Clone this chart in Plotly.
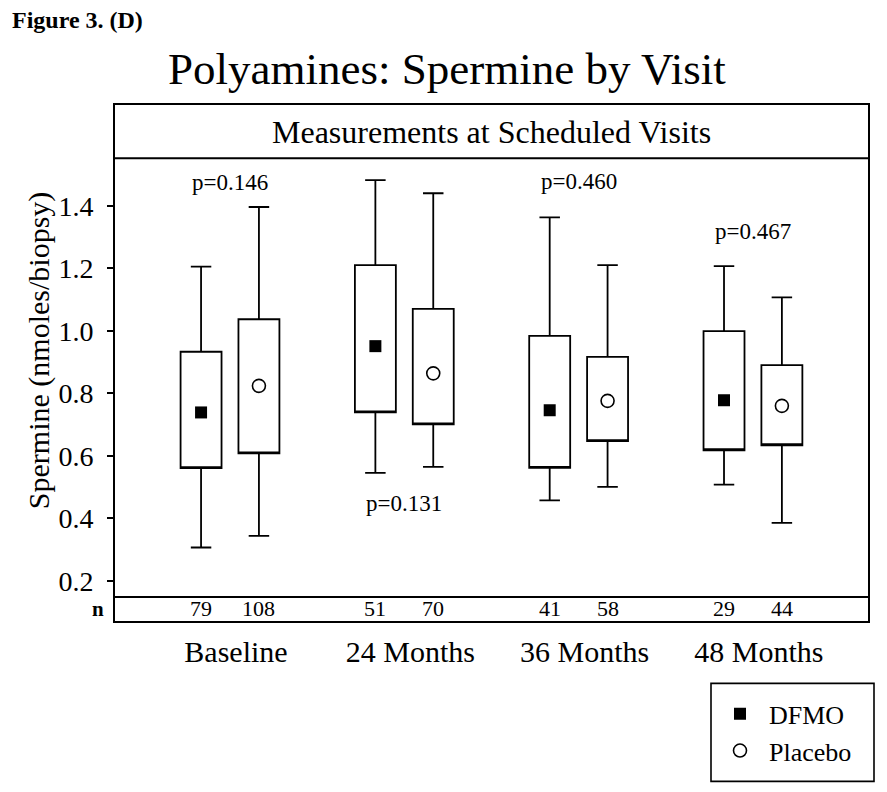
import plotly.graph_objects as go

# ---------------- data ----------------
visits = ["Baseline", "24 Months", "36 Months", "48 Months"]

dfmo_lo   = [0.307, 0.546, 0.458, 0.508]
dfmo_q1   = [0.561, 0.739, 0.562, 0.618]
dfmo_q3   = [0.933, 1.210, 0.984, 0.999]
dfmo_hi   = [1.205, 1.482, 1.363, 1.207]
dfmo_mean = [0.739, 0.951, 0.746, 0.778]
dfmo_n    = [79, 51, 41, 29]

plac_lo   = [0.344, 0.565, 0.501, 0.386]
plac_q1   = [0.608, 0.701, 0.647, 0.634]
plac_q3   = [1.037, 1.070, 0.917, 0.890]
plac_hi   = [1.396, 1.440, 1.210, 1.107]
plac_mean = [0.824, 0.864, 0.776, 0.760]
plac_n    = [108, 70, 58, 44]

p_labels = ["p=0.146", "p=0.131", "p=0.460", "p=0.467"]
p_y      = [1.473, 0.448, 1.477, 1.317]

yticks = [0.2, 0.4, 0.6, 0.8, 1.0, 1.2, 1.4]

# ---------------- layout constants ----------------
PAGE = 8                      # default body margin of the html page
W, H = 887 - PAGE, 792 - PAGE
# plot frame in page pixels
L, R, T, B = 115, 868, 105, 620.7
OFF = 0.166
BOXW = 0.235
YR = [0.072, 1.7222]
Y_HEADER = 1.5517
Y_NROW = 0.1488
FONT = "Liberation Serif, Times New Roman, serif"

def px2x(px):
    return (px - L) / (R - L)

def px2y(py):
    return (B - py) / (B - T)

gx = list(range(len(visits)))
dx = [g - OFF for g in gx]
px_ = [g + OFF for g in gx]

fig = go.Figure()

boxline = dict(color="black", width=1.8)
fig.add_trace(go.Box(x=dx, q1=dfmo_q1, median=dfmo_q1, q3=dfmo_q3,
                     lowerfence=dfmo_lo, upperfence=dfmo_hi,
                     width=BOXW, whiskerwidth=0.5, fillcolor="white",
                     line=boxline, boxpoints=False, showlegend=False,
                     hoverinfo="skip"))
fig.add_trace(go.Box(x=px_, q1=plac_q1, median=plac_q1, q3=plac_q3,
                     lowerfence=plac_lo, upperfence=plac_hi,
                     width=BOXW, whiskerwidth=0.5, fillcolor="white",
                     line=boxline, boxpoints=False, showlegend=False,
                     hoverinfo="skip"))

fig.add_trace(go.Scatter(x=dx, y=dfmo_mean, mode="markers", name="DFMO",
                         marker=dict(symbol="square", size=12, color="black"),
                         hoverinfo="skip"))
fig.add_trace(go.Scatter(x=px_, y=plac_mean, mode="markers", name="Placebo",
                         marker=dict(symbol="circle-open", size=13, color="black",
                                     line=dict(width=1.6, color="black")),
                         hoverinfo="skip"))

def txt(size):
    return dict(family=FONT, size=size, color="black")

annotations = []
# p-values
for g, t, y in zip(gx, p_labels, p_y):
    annotations.append(dict(x=g, y=y, xref="x", yref="y", text=t, showarrow=False,
                            xanchor="center", yanchor="middle", font=txt(23)))
# n values
ny = (YR[0] + Y_NROW) / 2
for x, n in zip(dx + px_, dfmo_n + plac_n):
    annotations.append(dict(x=x, y=ny, xref="x", yref="y", text=str(n), showarrow=False,
                            xanchor="center", yanchor="middle", font=txt(22)))
annotations.append(dict(x=px2x(98), y=ny, xref="paper", yref="y", text="<b>n</b>",
                        xanchor="center", yanchor="middle",
                        showarrow=False, font=txt(21)))
# header
annotations.append(dict(x=1.5, y=(Y_HEADER + YR[1]) / 2, xref="x", yref="y",
                        text="Measurements at Scheduled Visits", showarrow=False,
                        xanchor="center", yanchor="middle", font=txt(32)))
# y-axis title
annotations.append(dict(x=px2x(39), y=px2y(351), xref="paper", yref="paper",
                        text="Spermine (nmoles/biopsy)", textangle=-90, showarrow=False,
                        xanchor="center", yanchor="middle", font=txt(30)))
# figure label
annotations.append(dict(x=px2x(10), y=px2y(20), xref="paper", yref="paper",
                        xanchor="left", yanchor="middle", text="<b>Figure 3. (D)</b>",
                        showarrow=False, font=txt(24)))
# title
annotations.append(dict(x=px2x(447), y=px2y(69), xref="paper", yref="paper",
                        xanchor="center", yanchor="middle",
                        text="Polyamines: Spermine by Visit", showarrow=False,
                        font=txt(45)))

shapes = [
    dict(type="line", xref="paper", yref="y", x0=0, x1=1, y0=Y_HEADER, y1=Y_HEADER,
         line=dict(color="black", width=2)),
    dict(type="line", xref="paper", yref="y", x0=0, x1=1, y0=Y_NROW, y1=Y_NROW,
         line=dict(color="black", width=2)),
    # legend frame
    dict(type="rect", xref="paper", yref="paper",
         x0=px2x(711), x1=px2x(874), y0=px2y(781), y1=px2y(683),
         line=dict(color="black", width=1.6), fillcolor="rgba(0,0,0,0)"),
]

fig.update_layout(
    width=W, height=H,
    margin=dict(l=L - PAGE, r=W - (R - PAGE), t=T - PAGE, b=H - (B - PAGE)),
    paper_bgcolor="white", plot_bgcolor="white",
    font=dict(family=FONT, color="black"),
    annotations=annotations, shapes=shapes,
    showlegend=True,
    legend=dict(x=px2x(711), y=px2y(690), xanchor="left", yanchor="top",
                borderwidth=0, bgcolor="rgba(0,0,0,0)",
                font=txt(26), itemwidth=48,
                entrywidth=100, tracegroupgap=0),
    xaxis=dict(range=[-0.6597, 3.66], showgrid=False, zeroline=False,
               showline=True, linecolor="black", linewidth=2, mirror=True,
               tickvals=gx, ticktext=visits, ticks="",
               tickfont=txt(30),
               ticklabelshift=6, ticklabelstandoff=3),
    yaxis=dict(range=YR, showgrid=False, zeroline=False,
               showline=True, linecolor="black", linewidth=2, mirror=True,
               tickvals=yticks, ticktext=[f"{v:.1f}" for v in yticks],
               ticks="outside", ticklen=6, tickwidth=1.6, tickcolor="black",
               ticklabelstandoff=8,
               tickfont=txt(28)),
)

fig.write_html("out.html")
